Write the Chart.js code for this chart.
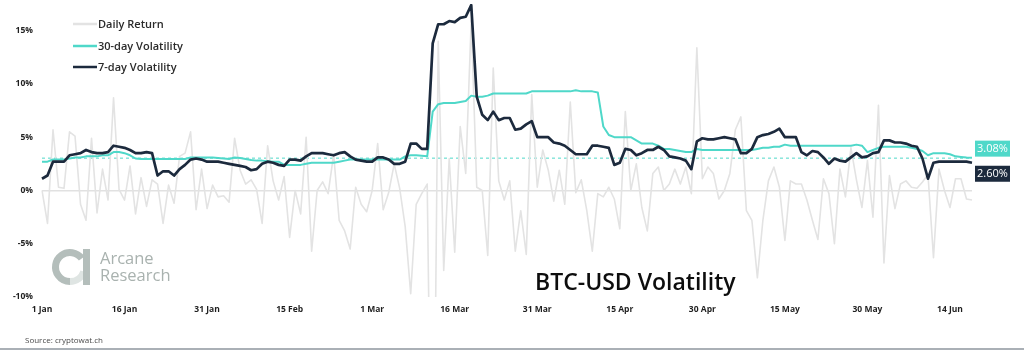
<!DOCTYPE html>
<html>
<head>
<meta charset="utf-8">
<script src="https://cdn.jsdelivr.net/npm/chart.js@4.4.0/dist/chart.umd.min.js"></script>
<style>
  html, body { margin: 0; padding: 0; background: #ffffff; }
  #wrap { width: 1024px; height: 350px; position: relative; }
</style>
</head>
<body>
<div id="wrap"><canvas id="c" width="1024" height="350"></canvas></div>
<script>
// BTC-USD daily returns and rolling volatility, 1 Jan - 18 Jun 2020 (values in %)
const dailyReturn = [
  0.0, -3.1, 5.7, 0.3, 0.2, 5.5, 5.1, -1.3, -2.8, 4.9,
  -2.1, 2.0, -0.9, 8.7, 0.1, -0.9, 2.3, -2.2, 1.2, -1.5,
  1.0, 0.6, -3.1, 0.5, -1.2, 3.2, 3.5, 5.5, -1.8, 2.0,
  -1.7, 0.5, -0.6, -0.5, -1.1, 4.9, 1.9, 0.6, 1.0, 0.1,
  -3.1, 4.2, 0.9, -0.9, 1.3, -4.4, 0.0, -2.2, 5.0, -5.7,
  0.0, 0.8, -0.3, 3.4, -2.8, -3.8, -5.5, 0.3, -1.3, -2.0,
  0.0, 4.4, -1.8, -0.2, 2.5, 0.2, -3.4, -9.7, -1.3, -0.3,
  0.6, -39.0, 14.0, -7.5, 3.0, -5.8, 6.0, 1.6, 16.0, 0.3,
  0.0, -6.1, 11.5, 0.9, -0.9, 0.9, -5.7, -1.9, -6.0, 9.0,
  0.3, 3.8, 1.9, -1.0, 1.9, -1.3, 8.3, -0.2, 1.0, -1.9,
  -5.7, -0.3, -0.6, 0.3, -0.8, -3.6, 7.4, 0.0, 2.5, -1.6,
  -3.8, 1.6, 2.2, 0.0, 0.6, 2.0, 0.6, 2.2, -0.3, 13.4,
  1.1, 2.2, 1.6, -0.8, 0.0, 1.6, 5.7, 6.9, -1.9, -2.8,
  -8.2, -2.8, 0.9, 2.2, 0.3, -4.7, 0.9, 0.6, 0.6, -0.9,
  -2.8, -4.6, 1.1, -0.3, -5.0, 2.0, -0.6, 4.0, 1.0, -1.6,
  2.8, -2.5, 8.0, -6.8, 1.4, -1.7, 0.6, 0.9, 0.3, 0.2,
  0.8, 1.5, -6.3, 2.0, 0.0, -1.6, 1.1, 1.1, -0.8, -0.9
];

const vol30 = [
  2.7, 2.7, 2.9, 2.9, 2.9, 3.0, 3.1, 3.1, 3.2, 3.2,
  3.2, 3.3, 3.3, 3.6, 3.6, 3.5, 3.3, 3.0, 2.95, 2.95,
  2.95, 2.95, 2.95, 2.95, 2.95, 2.95, 2.95, 3.1, 3.1, 3.1,
  3.1, 3.1, 3.05, 3.0, 2.95, 3.1, 3.05, 2.95, 2.85, 2.8,
  2.8, 2.75, 2.7, 2.7, 2.4, 2.4, 2.4, 2.4, 2.5, 2.6,
  2.6, 2.6, 2.6, 2.6, 2.7, 2.8, 2.9, 2.9, 2.9, 2.9,
  2.9, 2.9, 2.9, 2.9, 2.9, 2.9, 3.2, 3.3, 3.3, 3.25,
  3.2, 7.4, 8.1, 8.2, 8.2, 8.2, 8.3, 8.4, 8.9, 8.8,
  8.8, 8.9, 9.1, 9.1, 9.1, 9.1, 9.1, 9.1, 9.1, 9.3,
  9.3, 9.3, 9.3, 9.3, 9.3, 9.3, 9.3, 9.4, 9.3, 9.3,
  9.3, 9.2, 6.0, 5.2, 5.0, 5.0, 5.0, 5.0, 4.7, 4.4,
  4.4, 4.4, 4.2, 3.9, 3.9, 3.8, 3.7, 3.6, 3.6, 3.9,
  3.8, 3.8, 3.8, 3.8, 3.8, 3.8, 3.8, 3.8, 3.8, 3.8,
  3.9, 4.0, 4.0, 4.1, 4.1, 4.3, 4.2, 4.2, 4.2, 4.2,
  4.2, 4.2, 4.2, 4.2, 4.2, 4.2, 4.2, 4.2, 4.3, 4.2,
  3.6, 3.8, 4.0, 4.1, 4.1, 4.1, 4.1, 4.1, 4.0, 3.9,
  3.7, 3.3, 3.5, 3.5, 3.5, 3.4, 3.2, 3.15, 3.1, 3.08
];

const vol7 = [
  1.1, 1.4, 2.7, 2.7, 2.7, 3.3, 3.4, 3.5, 3.8, 3.6,
  3.5, 3.5, 3.6, 4.2, 4.1, 4.0, 3.8, 3.5, 3.5, 3.6,
  3.5, 1.4, 1.8, 1.8, 1.4, 2.0, 2.4, 2.9, 3.0, 2.9,
  2.7, 2.7, 2.7, 2.6, 2.5, 2.4, 2.3, 2.2, 1.9, 2.0,
  2.5, 2.7, 2.6, 2.4, 2.3, 2.9, 2.9, 2.8, 3.2, 3.5,
  3.5, 3.5, 3.4, 3.3, 3.5, 3.6, 3.2, 2.9, 2.8, 2.7,
  2.7, 3.1, 3.1, 2.9, 2.5, 2.5, 2.7, 4.4, 4.4, 3.9,
  3.9, 13.8, 15.6, 15.6, 15.9, 15.8, 16.2, 16.3, 17.4, 8.8,
  7.1, 6.6, 7.4, 6.6, 6.8, 6.8, 5.7, 5.8, 6.2, 6.5,
  5.0, 5.0, 5.0, 4.5, 4.4, 4.2, 3.8, 3.4, 3.4, 3.4,
  4.2, 4.2, 4.1, 4.0, 2.4, 2.6, 3.9, 3.8, 3.3, 3.5,
  3.8, 3.8, 4.1, 3.8, 3.2, 3.1, 3.0, 2.8, 2.0, 4.6,
  4.9, 4.8, 4.8, 4.9, 5.0, 4.9, 4.8, 3.5, 3.5, 3.9,
  5.0, 5.2, 5.3, 5.5, 5.8, 5.0, 5.0, 5.0, 3.6, 3.3,
  3.7, 3.6, 3.1, 2.5, 3.0, 2.8, 2.7, 3.1, 3.5, 3.1,
  3.2, 3.5, 3.6, 4.7, 4.7, 4.5, 4.5, 4.4, 4.2, 4.1,
  3.0, 1.1, 2.6, 2.7, 2.7, 2.7, 2.7, 2.7, 2.7, 2.6
];

const tickLabels = ['1 Jan', '16 Jan', '31 Jan', '15 Feb', '1 Mar', '16 Mar',
                    '31 Mar', '15 Apr', '30 Apr', '15 May', '30 May', '14 Jun'];
const yTicks = [-10, -5, 0, 5, 10, 15];

// one category per calendar day, starting 1 Jan 2020
const monthNames = ['Jan', 'Feb', 'Mar', 'Apr', 'May', 'Jun'];
const categories = [];
for (let i = 0; i < dailyReturn.length; i++) {
  const d = new Date(2020, 0, 1 + i);
  categories.push(d.getDate() + ' ' + monthNames[d.getMonth()]);
}

const COLORS = {
  daily: '#e3e3e3',
  vol30: '#4fd8c9',
  vol7: '#1c2a3d',
  axisText: '#1f1f1f'
};
const FONT = "'Open Sans', 'DejaVu Sans', sans-serif";

const decor = {
  id: 'decor',
  beforeDatasetsDraw(chart) {
    const { ctx, chartArea, scales } = chart;
    const y = scales.y;
    ctx.save();

    // reference level: latest 30-day volatility
    const lvl = y.getPixelForValue(vol30[vol30.length - 1]);
    ctx.strokeStyle = COLORS.vol30;
    ctx.lineWidth = 1;
    ctx.setLineDash([3, 3]);
    ctx.beginPath();
    ctx.moveTo(chartArea.left, lvl + 0.5);
    ctx.lineTo(chartArea.right, lvl + 0.5);
    ctx.stroke();
    ctx.setLineDash([]);

    // logo mark
    const cx = 70, cy = 267, r = 14.5;
    ctx.lineWidth = 7;
    ctx.strokeStyle = '#b4bebb';
    ctx.beginPath();
    ctx.arc(cx, cy, r, -Math.PI / 5, Math.PI / 2, true);
    ctx.stroke();
    ctx.strokeStyle = '#dfe5e3';
    ctx.beginPath();
    ctx.arc(cx, cy, r, Math.PI / 2, Math.PI / 10, true);
    ctx.stroke();
    ctx.fillStyle = '#b4bebb';
    ctx.fillRect(83, 249, 7, 36);

    ctx.fillStyle = '#a9b2af';
    ctx.font = '16.5px ' + FONT;
    ctx.textAlign = 'left';
    ctx.textBaseline = 'alphabetic';
    ctx.fillText('Arcane', 100, 264);
    ctx.fillText('Research', 100, 281);

    // title
    ctx.fillStyle = '#0d0d0d';
    ctx.font = '600 23px ' + FONT;
    ctx.fillText('BTC-USD Volatility', 535, 290);
    ctx.restore();
  },
  afterDraw(chart) {
    const { ctx, chartArea, scales } = chart;
    const y = scales.y;
    ctx.save();

    // legend
    const items = [
      ['Daily Return', COLORS.daily, 24],
      ['30-day Volatility', COLORS.vol30, 46],
      ['7-day Volatility', COLORS.vol7, 67]
    ];
    ctx.font = '600 11px ' + FONT;
    ctx.textBaseline = 'middle';
    ctx.textAlign = 'left';
    items.forEach(([label, color, ly]) => {
      ctx.strokeStyle = color;
      ctx.lineWidth = 2.5;
      ctx.beginPath();
      ctx.moveTo(73, ly);
      ctx.lineTo(97, ly);
      ctx.stroke();
      ctx.fillStyle = '#2a2a2a';
      ctx.fillText(label, 98, ly + 0.5);
    });

    // latest-value tags
    const tags = [
      [vol30[vol30.length - 1], COLORS.vol30, -9],
      [vol7[vol7.length - 1], COLORS.vol7, 11]
    ];
    ctx.font = '11px ' + FONT;
    ctx.textAlign = 'center';
    tags.forEach(([v, color, dy]) => {
      const cyTag = y.getPixelForValue(v) + dy;
      const bx = chartArea.right + 3;
      ctx.fillStyle = color;
      ctx.fillRect(bx, cyTag - 8, 35, 16);
      ctx.fillStyle = '#ffffff';
      ctx.fillText(v.toFixed(2) + '%', bx + 17.5, cyTag + 0.5);
    });

    // source note
    ctx.textAlign = 'left';
    ctx.fillStyle = '#4a4a4a';
    ctx.font = '8px ' + FONT;
    ctx.fillText('Source: cryptowat.ch', 25, 341);

    // bottom rule
    ctx.fillStyle = '#aab0b6';
    ctx.fillRect(0, 348, chart.width, 2);
    ctx.restore();
  }
};

new Chart(document.getElementById('c'), {
  type: 'line',
  data: {
    labels: categories,
    datasets: [
      { label: '7-day Volatility', data: vol7, borderColor: COLORS.vol7, borderWidth: 2.7, order: 0 },
      { label: '30-day Volatility', data: vol30, borderColor: COLORS.vol30, borderWidth: 2, order: 1 },
      { label: 'Daily Return', data: dailyReturn, borderColor: COLORS.daily, borderWidth: 1.6, order: 2 }
    ]
  },
  options: {
    responsive: false,
    animation: false,
    devicePixelRatio: 1,
    elements: { point: { radius: 0 }, line: { tension: 0, borderJoinStyle: 'round' } },
    layout: { padding: { top: 4, right: 52, bottom: 0, left: 0 } },
    plugins: { legend: { display: false }, tooltip: { enabled: false } },
    scales: {
      x: {
        afterBuildTicks: s => { s.ticks = s.ticks.filter(t => tickLabels.includes(categories[t.value])); },
        afterFit: s => { s.height = 53; },
        grid: { display: false, drawTicks: false },
        border: { display: false },
        ticks: {
          autoSkip: false, maxRotation: 0, padding: 7,
          color: COLORS.axisText,
          font: { family: FONT, size: 8.5, weight: 'bold' }
        }
      },
      y: {
        min: -10, max: 17.5,
        afterBuildTicks: s => { s.ticks = yTicks.map(v => ({ value: v })); },
        afterFit: s => { s.width = 42; s.paddingTop = 0; s.paddingBottom = 0; },
        border: { display: false },
        grid: {
          drawTicks: false,
          lineWidth: 1.5,
          color: c => (c.tick && c.tick.value === 0 ? '#e1e1e1' : 'rgba(0,0,0,0)')
        },
        ticks: {
          padding: 9,
          color: COLORS.axisText,
          font: { family: FONT, size: 8.5, weight: 'bold' },
          callback: v => v + '%'
        }
      }
    }
  },
  plugins: [decor]
});
</script>
</body>
</html>
